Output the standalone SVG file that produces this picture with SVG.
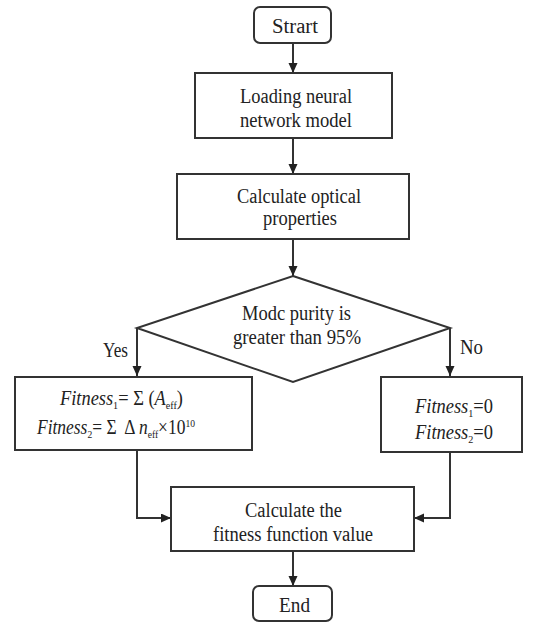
<svg xmlns="http://www.w3.org/2000/svg" width="548" height="623" viewBox="0 0 548 623">
<defs>
<style>
.box{fill:#fff;stroke:#333;stroke-width:2}
.ln{fill:none;stroke:#333;stroke-width:2}
text{font-family:"Liberation Serif","DejaVu Serif",serif;font-size:20px;fill:#222}
.t{text-anchor:middle}
.i{font-style:italic}
.s{font-size:11px}
</style>
<marker id="ah" markerWidth="10" markerHeight="10" refX="10" refY="4.5" orient="auto" markerUnits="userSpaceOnUse">
<path d="M0,0 L10,4.5 L0,9 z" fill="#222"/>
</marker>
</defs>
<rect width="548" height="623" fill="#fff"/>
<g id="connectors">
<line class="ln" x1="293" y1="43" x2="293" y2="73" marker-end="url(#ah)"/>
<line class="ln" x1="293" y1="138" x2="293" y2="174" marker-end="url(#ah)"/>
<line class="ln" x1="293" y1="239" x2="293" y2="276" marker-end="url(#ah)"/>
<polyline class="ln" points="137,328 137,376" marker-end="url(#ah)"/>
<polyline class="ln" points="450,328 450,376" marker-end="url(#ah)"/>
<polyline class="ln" points="137,450 137,518 171,518" marker-end="url(#ah)"/>
<polyline class="ln" points="450,452 450,518 414,518" marker-end="url(#ah)"/>
<line class="ln" x1="293" y1="551" x2="293" y2="586" marker-end="url(#ah)"/>
<text class="t" x="115.5" y="357" textLength="25" lengthAdjust="spacingAndGlyphs">Yes</text>
<text class="t" x="471.5" y="354" textLength="23" lengthAdjust="spacingAndGlyphs">No</text>
</g>
<g id="start">
<rect class="box" x="254" y="7" width="77" height="36" rx="6"/>
<text class="t" x="295" y="33" textLength="46" lengthAdjust="spacingAndGlyphs">Strart</text>
</g>
<g id="load">
<rect class="box" x="195" y="73" width="197" height="65"/>
<text class="t" x="296" y="103" textLength="112" lengthAdjust="spacingAndGlyphs">Loading neural</text>
<text class="t" x="296" y="127" textLength="112" lengthAdjust="spacingAndGlyphs">network model</text>
</g>
<g id="optical">
<rect class="box" x="177" y="174" width="232" height="65"/>
<text class="t" x="299" y="203" textLength="124" lengthAdjust="spacingAndGlyphs">Calculate optical</text>
<text class="t" x="300" y="225" textLength="74" lengthAdjust="spacingAndGlyphs">properties</text>
</g>
<g id="decision">
<polygon class="box" points="293,276 450,328 293,382 137,328"/>
<text class="t" x="296.5" y="320" textLength="109" lengthAdjust="spacingAndGlyphs">Modc purity is</text>
<text class="t" x="297" y="344" textLength="128" lengthAdjust="spacingAndGlyphs">greater than 95%</text>
</g>
<g id="yesbox">
<rect class="box" x="15" y="377" width="237" height="73"/>
<text x="60" y="405" textLength="123" lengthAdjust="spacingAndGlyphs"><tspan class="i">Fitness</tspan><tspan class="s" dy="4">1</tspan><tspan dy="-4">= Σ (</tspan><tspan class="i">A</tspan><tspan class="s" dy="4">eff</tspan><tspan dy="-4">)</tspan></text>
<text x="37" y="434" xml:space="preserve" textLength="158" lengthAdjust="spacingAndGlyphs"><tspan class="i">Fitness</tspan><tspan class="s" dy="4">2</tspan><tspan dy="-4">= Σ  Δ </tspan><tspan class="i">n</tspan><tspan class="s" dy="4">eff</tspan><tspan dy="-4">×10</tspan><tspan class="s" dy="-7">10</tspan></text>
</g>
<g id="nobox">
<rect class="box" x="381" y="377" width="141" height="75"/>
<text x="415" y="413" textLength="78" lengthAdjust="spacingAndGlyphs"><tspan class="i">Fitness</tspan><tspan class="s" dy="4">1</tspan><tspan dy="-4">=0</tspan></text>
<text x="415" y="439" textLength="78" lengthAdjust="spacingAndGlyphs"><tspan class="i">Fitness</tspan><tspan class="s" dy="4">2</tspan><tspan dy="-4">=0</tspan></text>
</g>
<g id="fitness">
<rect class="box" x="171" y="487" width="243" height="64"/>
<text class="t" x="293.5" y="517" textLength="97" lengthAdjust="spacingAndGlyphs">Calculate the</text>
<text class="t" x="293" y="541" textLength="160" lengthAdjust="spacingAndGlyphs">fitness function value</text>
</g>
<g id="end">
<rect class="box" x="253" y="586" width="79" height="35" rx="6"/>
<text class="t" x="294.5" y="612" textLength="31" lengthAdjust="spacingAndGlyphs">End</text>
</g>
</svg>
